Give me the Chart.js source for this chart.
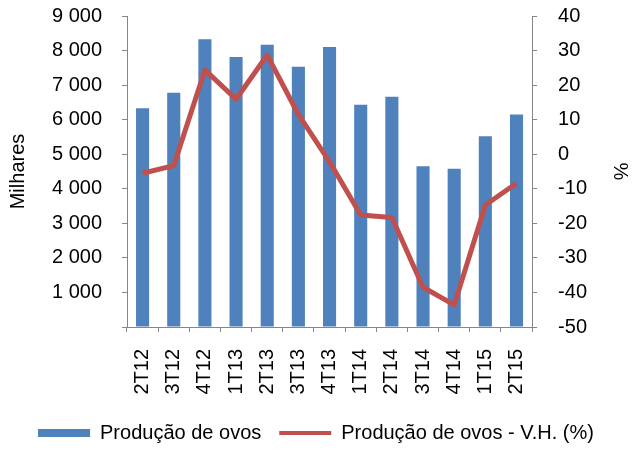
<!DOCTYPE html>
<html>
<head>
<meta charset="utf-8">
<script src="https://cdn.jsdelivr.net/npm/chart.js@4"></script>
<style>
  html, body { margin: 0; padding: 0; background: #fff; }
  #wrap { width: 632px; height: 450px; }
</style>
</head>
<body>
<div id="wrap"><canvas id="chart"></canvas></div>
<script>
const quarters = ['2T12', '3T12', '4T12', '1T13', '2T13', '3T13', '4T13', '1T14', '2T14', '3T14', '4T14', '1T15', '2T15'];
const eggProduction = [6330, 6780, 8330, 7810, 8170, 7530, 8100, 6430, 6660, 4650, 4580, 5520, 6150];
const yearOnYear = [-5.5, -3.3, 24.4, 15.9, 28.7, 11.5, -2.2, -17.6, -18.3, -38.5, -43.6, -14.7, -8.4];

const axisGray = '#868686';
const font = { family: "'Liberation Sans', Arial, sans-serif", size: 20 };

// thousands with a space, no zero label
const fmtThousands = (v) => v === 0 ? '' : String(v).replace(/\B(?=(\d{3})+(?!\d))/g, ' ');

// tick padding is for the horizontal gap only, don't let it push the plot down
const trimVertPadding = (scale) => {
  scale.paddingTop = 10;
  scale.paddingBottom = 10;
};

const ctx = document.getElementById('chart').getContext('2d');
new Chart(ctx, {
  type: 'bar',
  data: {
    labels: quarters,
    datasets: [
      {
        type: 'bar',
        label: 'Produção de ovos',
        data: eggProduction,
        backgroundColor: '#4F81BD',
        borderWidth: 0,
        barPercentage: 0.42,
        categoryPercentage: 1,
        yAxisID: 'y',
        order: 1
      },
      {
        type: 'line',
        label: 'Produção de ovos - V.H. (%)',
        data: yearOnYear,
        borderColor: '#C0504D',
        backgroundColor: '#C0504D',
        borderWidth: 5,
        pointRadius: 0,
        tension: 0,
        borderJoinStyle: 'round',
        yAxisID: 'y1',
        order: 0
      }
    ]
  },
  options: {
    responsive: true,
    maintainAspectRatio: false,
    animation: false,
    layout: { padding: { top: 16, left: 0, right: 0, bottom: -3 } },
    plugins: {
      tooltip: { enabled: false },
      legend: {
        position: 'bottom',
        labels: {
          usePointStyle: true,
          pointStyleWidth: 52,
          boxHeight: 8,
          padding: 18,
          color: '#000',
          font: font,
          generateLabels: (chart) => {
            const items = Chart.defaults.plugins.legend.labels.generateLabels(chart);
            return items
              .sort((a, b) => a.datasetIndex - b.datasetIndex)
              .map((it) => ({
                ...it,
                pointStyle: it.datasetIndex === 0 ? 'rect' : 'line',
                lineWidth: it.datasetIndex === 0 ? 0 : 4,
                strokeStyle: it.datasetIndex === 0 ? '#4F81BD' : '#C0504D'
              }));
          }
        }
      }
    },
    scales: {
      x: {
        afterFit: (scale) => { scale.height = 78; },
        grid: { offset: true, drawOnChartArea: false, tickLength: 5, color: axisGray },
        border: { color: axisGray },
        ticks: { color: '#000', font: font, minRotation: 90, maxRotation: 90, padding: 17, autoSkip: false }
      },
      y: {
        position: 'left',
        min: 0,
        max: 9000,
        afterFit: (scale) => { scale.width = 127; trimVertPadding(scale); },
        grid: { drawOnChartArea: false, tickLength: 5, color: axisGray },
        border: { color: axisGray },
        ticks: { stepSize: 1000, color: '#000', font: font, padding: 20, callback: fmtThousands },
        title: { display: true, text: 'Milhares', color: '#000', font: font, padding: { top: 6, bottom: 0 } }
      },
      y1: {
        position: 'right',
        min: -50,
        max: 40,
        afterFit: (scale) => { trimVertPadding(scale); },
        grid: { drawOnChartArea: false, tickLength: 5, color: axisGray },
        border: { color: axisGray },
        ticks: { stepSize: 10, color: '#000', font: font, padding: 21 },
        title: { display: true, text: '%', color: '#000', font: font, padding: { top: 0, bottom: 0 } }
      }
    }
  }
});
</script>
</body>
</html>
